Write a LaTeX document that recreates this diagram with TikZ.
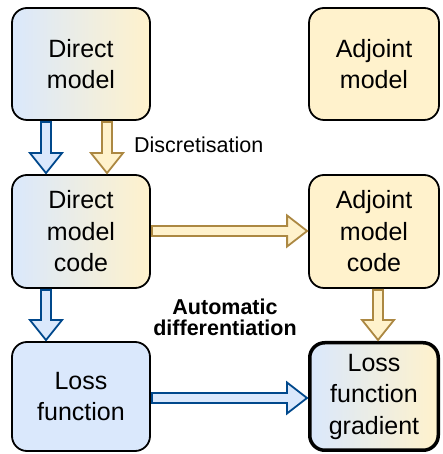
\documentclass[tikz,border=0pt]{standalone}
\usepackage{fontspec}
\setmainfont{Liberation Sans}
\usetikzlibrary{calc}
\definecolor{bfill}{HTML}{DAE8FC}
\definecolor{yfill}{HTML}{FFF2CC}
\definecolor{bline}{RGB}{0,72,140}
\definecolor{yline}{RGB}{172,136,66}
\newcommand\flexv[5]{%
  \filldraw[draw=#4,fill=#5,line width=1.8pt] let \p1=(#1.south), \p2=(#2.north) in
  (#3pt-5pt,\y1-1pt) -- (#3pt+5pt,\y1-1pt) -- (#3pt+5pt,\y2+21pt) -- (#3pt+16pt,\y2+21pt)
  -- (#3pt,\y2+1pt) -- (#3pt-16pt,\y2+21pt) -- (#3pt-5pt,\y2+21pt) -- cycle;}
\newcommand\flexh[5]{%
  \filldraw[draw=#4,fill=#5,line width=1.8pt] let \p1=(#1.east), \p2=(#2.west) in
  (\x1+1pt,#3pt-5pt) -- (\x2-21pt,#3pt-5pt) -- (\x2-21pt,#3pt-15.5pt) -- (\x2-1pt,#3pt)
  -- (\x2-21pt,#3pt+15.5pt) -- (\x2-21pt,#3pt+5pt) -- (\x1+1pt,#3pt+5pt) -- cycle;}
\begin{document}
\begin{tikzpicture}[x=1pt,y=1pt,
  box/.style={draw=black, line width=1.8pt, rounded corners=15pt, inner sep=0pt,
    align=center, minimum width=138pt, minimum height=112pt,
    font=\fontsize{25}{31.5}\selectfont},
  grad/.style={left color=bfill, right color=yfill},
  bluebox/.style={fill=bfill},
  yellowbox/.style={fill=yfill, minimum width=130pt},
  lbl/.style={inner sep=0pt, font=\fontsize{21.5}{21}\selectfont}]
\useasboundingbox (0,0) rectangle (442,454);
\node[box,grad] (dm) at (81,390) {Direct\\model};
\node[box,yellowbox] (am) at (374,390) {Adjoint\\model};
\node[box,grad,minimum height=113pt] (dc) at (81,222.5) {Direct\\model\\code};
\node[box,yellowbox,minimum height=113pt] (ac) at (374,222.5) {Adjoint\\model\\code};
\node[box,bluebox,minimum height=109pt] (lf) at (81,57.5) {Loss\\function};
\node[box,grad,line width=3.5pt,minimum width=128.5pt,minimum height=107.5pt] (lg) at (374,57.5) {Loss\\function\\gradient};
\flexv{dm}{dc}{46}{bline}{bfill}
\flexv{dm}{dc}{107}{yline}{yfill}
\flexv{dc}{lf}{46}{bline}{bfill}
\flexv{ac}{lg}{378}{yline}{yfill}
\flexh{dc}{ac}{223}{yline}{yfill}
\flexh{lf}{lg}{56}{bline}{bfill}
\node[lbl,anchor=base west] (disc) at (134,301) {Discretisation};
\node[lbl,align=center,font=\fontsize{21.5}{21}\selectfont\bfseries] (ad) at (225,137) {Automatic\\differentiation};
\end{tikzpicture}
\end{document}
